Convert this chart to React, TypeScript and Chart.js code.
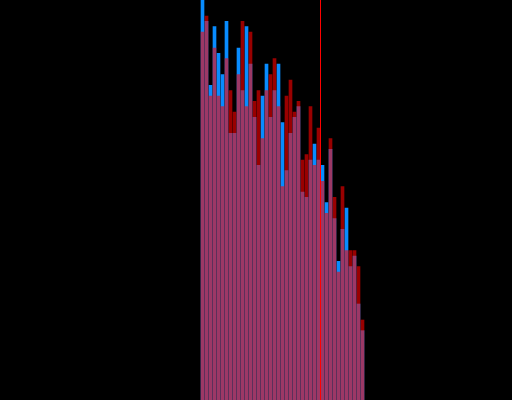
import React, { useEffect, useRef } from "react";
import { Chart, registerables } from "chart.js";

Chart.register(...registerables);

// Histogram bins (bin index), counts for the two overlaid distributions
const bins: number[] = Array.from({ length: 41 }, (_, i) => 50 + i);
const blueCounts: number[] = [75, 71, 59, 70, 65, 61, 71, 50, 50, 66, 58, 70, 63, 53, 44, 57, 63, 53, 58, 63, 52, 43, 50, 53, 55, 39, 38, 45, 48, 45, 44, 37, 47, 34, 26, 32, 36, 25, 27, 18, 13];
const redCounts: number[] = [69, 72, 57, 66, 57, 55, 64, 58, 54, 61, 71, 55, 69, 56, 58, 49, 58, 61, 64, 55, 40, 57, 60, 54, 56, 45, 46, 55, 44, 51, 41, 35, 49, 38, 24, 40, 28, 28, 28, 25, 15];
const thresholdBin = 79.5;
const xMin = -0.625;
const xMax = 127.375;
const yMax = 75;

export default function App() {
  const ref = useRef<HTMLCanvasElement | null>(null);
  useEffect(() => {
    if (!ref.current) return;
    const chart = new Chart(ref.current, {
      type: "bar",
      data: {
        datasets: [
          {
            type: "line",
            data: [
              { x: thresholdBin, y: 0 },
              { x: thresholdBin, y: yMax },
            ],
            borderColor: "rgb(255,0,0)",
            borderWidth: 1,
            pointRadius: 0,
            order: 0,
          } as any,
          {
            type: "bar",
            data: bins.map((b, i) => ({ x: b, y: redCounts[i] })),
            backgroundColor: "rgba(255,0,0,0.6)",
            borderWidth: 0,
            barThickness: 3,
            grouped: false,
            order: 1,
          } as any,
          {
            type: "bar",
            data: bins.map((b, i) => ({ x: b, y: blueCounts[i] })),
            backgroundColor: "rgb(8,140,255)",
            borderWidth: 0,
            barThickness: 3,
            grouped: false,
            order: 2,
          } as any,
        ],
      },
      options: {
        animation: false,
        responsive: false,
        devicePixelRatio: 1,
        layout: { padding: 0 },
        plugins: { legend: { display: false }, tooltip: { enabled: false } },
        scales: {
          x: { type: "linear", min: xMin, max: xMax, offset: false, display: false, grid: { offset: false } },
          y: { type: "linear", min: 0, max: yMax, display: false },
        },
      },
    });
    return () => chart.destroy();
  }, []);
  return (
    <div style={{ position: "fixed", left: 0, top: 0, width: 512, height: 400, background: "#000" }}>
      <canvas ref={ref} width={512} height={400} style={{ display: "block" }} />
    </div>
  );
}
